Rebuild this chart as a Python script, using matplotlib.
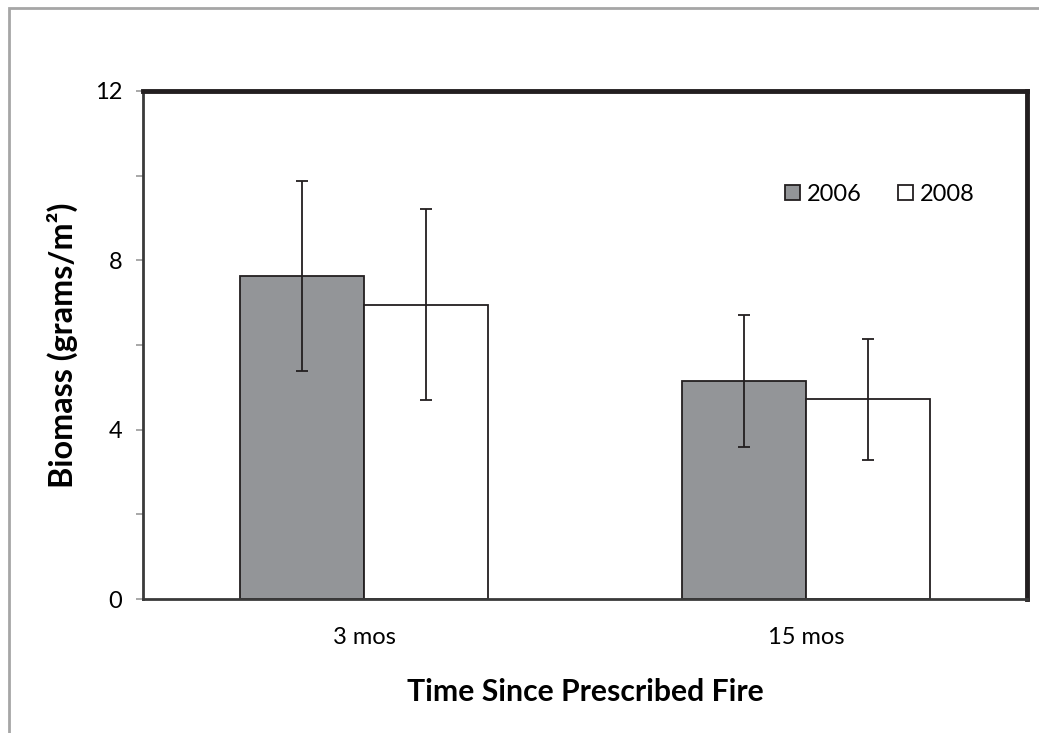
import numpy as np
import matplotlib.pyplot as plt
from matplotlib.patches import Rectangle

# Biomass after prescribed fire
categories = ["3 mos", "15 mos"]
years = ["2006", "2008"]
biomass_2006 = [7.63, 5.15]
err_2006 = [2.25, 1.56]
biomass_2008 = [6.95, 4.72]
err_2008 = [2.26, 1.43]

plt.rcParams['font.family'] = ['Lato', 'DejaVu Sans']

dark = '#231f20'
fig = plt.figure(figsize=(10.39, 7.33), dpi=100)

# outer frame (top and left edges visible)
fig.patches.append(Rectangle((0.0087, -0.05), 1.2, 1.039, transform=fig.transFigure,
                             fill=False, edgecolor='#a6a6a6', lw=2))

ax = fig.add_axes([0.1376, 0.1828, 0.8508, 0.6931])

x = np.arange(len(categories))
w = 0.28
err_kw = dict(ecolor=dark, elinewidth=1.3, capsize=4, capthick=1.3)
ax.bar(x - w / 2, biomass_2006, w, yerr=err_2006, color='#939598', edgecolor=dark,
       linewidth=1.3, label=years[0], error_kw=err_kw)
ax.bar(x + w / 2, biomass_2008, w, yerr=err_2008, color='white', edgecolor=dark,
       linewidth=1.3, label=years[1], error_kw=err_kw)

ax.set_xlim(-0.5, 1.5)
ax.set_ylim(0, 12)
ax.set_yticks([0, 4, 8, 12])
ax.set_yticks([2, 6, 10], minor=True)
ax.tick_params(axis='y', which='both', length=5, width=1.2, color='#999999',
               labelsize=17, pad=10)
ax.set_xticks(x)
ax.set_xticklabels(categories)
ax.tick_params(axis='x', length=0, labelsize=17, pad=20)

for side in ['top', 'right']:
    ax.spines[side].set_linewidth(3.5)
    ax.spines[side].set_color(dark)
for side in ['left', 'bottom']:
    ax.spines[side].set_linewidth(2)
    ax.spines[side].set_color('#3a3a3a')

ax.set_ylabel("Biomass (grams/m²)", fontsize=23.3, fontweight='bold', labelpad=12)
ax.set_xlabel("Time Since Prescribed Fire", fontsize=21.7, fontweight='bold', labelpad=22)

ax.legend(ncol=2, frameon=False, loc='upper right', bbox_to_anchor=(0.965, 0.859),
          fontsize=17, handlelength=0.65, handleheight=0.65, handletextpad=0.3,
          columnspacing=1.5)

plt.savefig("out.png", dpi=100)
